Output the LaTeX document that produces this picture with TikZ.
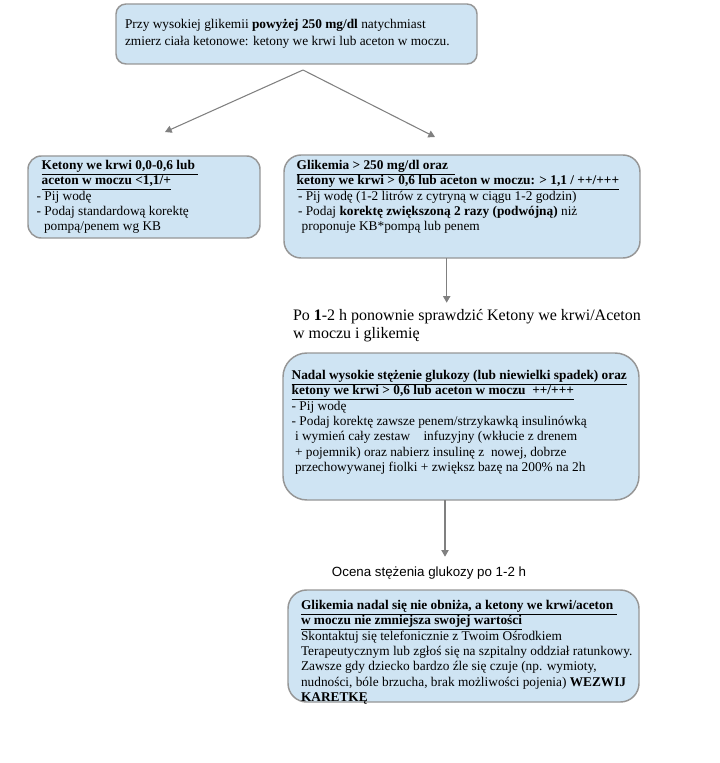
\documentclass[tikz,border=0pt]{standalone}
\usepackage{fontspec}
\setmainfont{Liberation Serif}
\newfontfamily\arialf{Liberation Sans}
\usetikzlibrary{fit,arrows.meta}
\definecolor{boxfill}{RGB}{207,228,243}
\definecolor{boxline}{RGB}{150,150,150}
\definecolor{arrowgray}{RGB}{128,128,128}
\begin{document}
\begin{tikzpicture}[x=0.75pt,y=-0.75pt,
  box/.style={draw=boxline, line width=1.1pt, fill=boxfill, inner sep=0pt, outer sep=0pt},
  txt/.style={anchor=north west, inner sep=0pt, outer sep=0pt, align=left, font=\fontsize{10}{11.5}\selectfont},
  conn/.style={draw=arrowgray, line width=0.8pt, -{Triangle[width=5.5pt,length=5pt]}}]
\useasboundingbox (0,0) rectangle (719,763);

% boxes
\node[box, rounded corners=7.5pt, fit={(116,4) (477,64)}] (top) {};
\node[box, rounded corners=10pt, fit={(28,156) (260,238)}] (lbox) {};
\node[box, rounded corners=12.75pt, fit={(284,155) (640,258)}] (rbox) {};
\node[box, rounded corners=18pt, fit={(283,353) (639,500)}] (b3) {};
\node[box, rounded corners=14pt, fit={(288,590) (639,702)}] (b4) {};

% texts
\node[txt, font=\fontsize{10}{12.75}\selectfont] (ttop) at (125,17.1) {\strut Przy wysokiej glikemii \textbf{powyżej 250 mg/dl} natychmiast\\
zmierz ciała ketonowe: ketony we krwi lub aceton w moczu.};

\node[txt] (tleft) at (36.7,158.8) {\strut\hspace*{3.75pt}\underline{\textbf{Ketony we krwi 0,0-0,6 lub\ }}\\
\hspace*{3.75pt}\underline{\textbf{aceton w moczu <1,1/+}}\\
- Pij wodę\\
- Podaj standardową korektę\\
\hspace*{5.5pt}pompą/penem wg KB};

\node[txt] (tright) at (296.7,158.8) {\strut\underline{\textbf{Glikemia > 250 mg/dl oraz\ \ }}\\
\underline{\textbf{ketony we krwi > 0,6 lub aceton w moczu: > 1,1 / ++/+++}}\\
\hspace*{1pt}- Pij wodę (1-2 litrów z cytryną w ciągu 1-2 godzin)\\
\hspace*{1pt}- Podaj \textbf{korektę zwiększoną 2 razy (podwójną)} niż\\
\hspace*{3.75pt}proponuje KB*pompą lub penem};

\node[txt, font=\fontsize{12}{13.5}\selectfont] (tpo) at (293,307.4) {\strut Po \textbf{1}-2 h ponownie sprawdzić Ketony we krwi/Aceton\\
w moczu i glikemię};

\node[txt] (tb3) at (291.7,368.8) {\strut\underline{\textbf{Nadal wysokie stężenie glukozy (lub niewielki spadek) oraz}}\\
\underline{\textbf{ketony we krwi > 0,6 lub aceton w moczu\ \ ++/+++}}\\
- Pij wodę\\
- Podaj korektę zawsze penem/strzykawką insulinówką\\
\hspace*{2.5pt}i wymień cały zestaw\ \ \ \ infuzyjny\ (wkłucie z drenem\\
\hspace*{2.5pt}+ pojemnik) oraz nabierz insulinę z\ \ nowej, dobrze\\
\hspace*{2.5pt}przechowywanej fiolki + zwiększ bazę na 200\% na 2h};

\node[anchor=base west, inner sep=0pt, font=\arialf\fontsize{10}{11.5}\selectfont] (tocena) at (331.7,576) {Ocena stężenia glukozy po 1-2 h};

\node[txt] (tb4) at (301,598.8) {\strut\underline{\textbf{Glikemia nadal się nie obniża, a ketony we krwi/aceton\ }}\\
\underline{\textbf{w moczu nie zmniejsza swojej wartości}}\\
Skontaktuj się telefonicznie z Twoim Ośrodkiem\\
Terapeutycznym lub zgłoś się na szpitalny oddział ratunkowy.\\
Zawsze gdy dziecko bardzo źle się czuje (np. wymioty,\\
nudności, bóle brzucha, brak możliwości pojenia) \textbf{WEZWIJ}\\
\textbf{KARETKĘ}};

% connectors
\coordinate (apex) at (303,70);
\coordinate (tipL) at (165,132);
\coordinate (tipR) at (435,137);
\draw[conn] (apex) -- (tipL);
\draw[conn] (apex) -- (tipR);
\coordinate (a1) at (446.7,302.7);
\draw[conn] (rbox.south -| a1) -- (a1);
\coordinate (a2) at (445,556.7);
\draw[conn] (b3.south -| a2) -- (a2);
\end{tikzpicture}
\end{document}
